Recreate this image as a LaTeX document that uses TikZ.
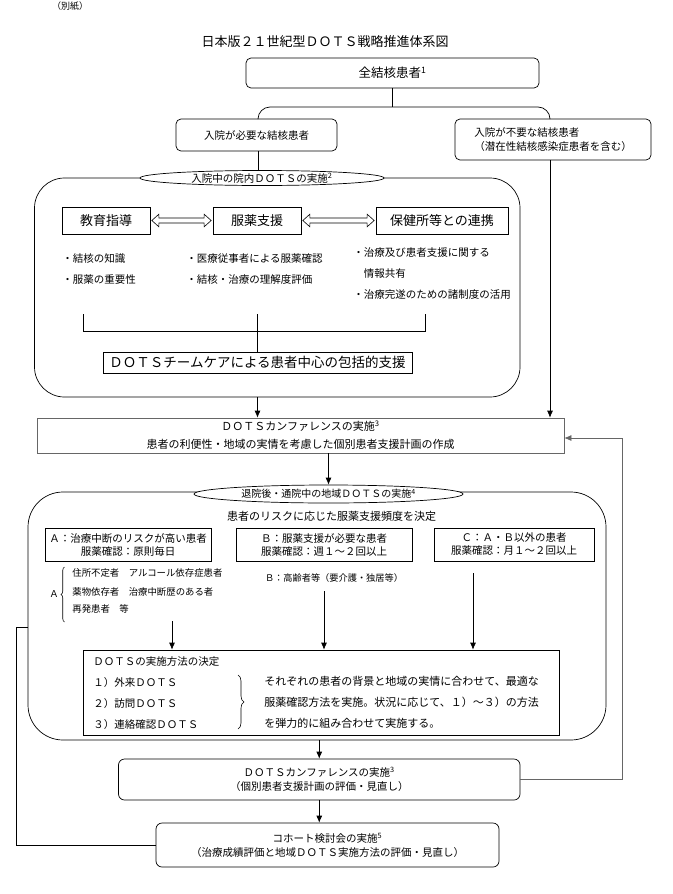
\documentclass[tikz,border=0pt]{standalone}
\usepackage{fontspec}
\setmainfont{Noto Sans CJK JP}
\usetikzlibrary{shapes.geometric,arrows.meta,calc,decorations.pathreplacing}
\newcommand{\fsz}[2]{\fontsize{#1}{#2}\selectfont}
\newcommand{\supn}[1]{\textsuperscript{#1}}
\newcommand{\dblarr}[2]{%
  \draw[line width=0.6pt, line join=miter]
    let \p1=($(#1.east)+(1.5,0)$), \p2=($(#2.west)+(-1.5,0)$) in
    (\x1,\y1) -- (\x1+7pt,\y1+6.3pt) -- (\x1+7pt,\y1+2.5pt) -- (\x2-7pt,\y1+2.5pt)
    -- (\x2-7pt,\y1+6.3pt) -- (\x2,\y1) -- (\x2-7pt,\y1-6.3pt) -- (\x2-7pt,\y1-2.5pt)
    -- (\x1+7pt,\y1-2.5pt) -- (\x1+7pt,\y1-6.3pt) -- cycle;}
\tikzset{
  every node/.style={font=\fsz{10.5}{13}},
  rbox/.style={draw, rounded corners=5pt, inner sep=0pt, align=center},
  sbox/.style={draw, inner sep=0pt, align=center},
  oval/.style={draw, ellipse, fill=white, inner xsep=0pt, inner ysep=-2.5pt},
  bigr/.style={draw, inner sep=0pt},
  lbl/.style={inner sep=0pt, anchor=west},
  plain/.style={inner sep=0pt},
  arr/.style={-{Latex[length=7pt,width=6pt]}},
}
\begin{document}
\begin{tikzpicture}[x=1pt,y=-1pt,line width=0.7pt]
\fill[white] (0,0) rectangle (672,894);
\useasboundingbox (0,0) rectangle (672,894);

% header
\node[plain, font=\fsz{9}{11}] (bessi) at (70,6) {（別紙）};
\node[plain, font=\fsz{13}{15}] (title) at (325,42) {日本版２１世紀型ＤＯＴＳ戦略推進体系図};

% top
\node[rbox, minimum width=293pt, minimum height=30pt, font=\fsz{12.5}{15}] (all) at (392.5,73) {全結核患者\supn{1}};
\node[rbox, minimum width=161pt, minimum height=32pt] (need) at (256.5,135) {入院が必要な結核患者};
\node[rbox, minimum width=196pt, minimum height=41pt, align=left, font=\fsz{10.5}{14}] (noneed) at (553,139.5) {入院が不要な結核患者\\（潜在性結核感染症患者を含む）};

\coordinate (jL) at (258,107);
\coordinate (jR) at (550,107);
\draw (all.south) -- (all.south |- jL);
\draw[rounded corners=12pt] (jL |- need.north) -- (jL) -- (jR) -- (jR |- noneed.north);

% inpatient block
\node[bigr, rounded corners=30pt, minimum width=485.5pt, minimum height=219pt] (inpat) at (277.25,287.5) {};
\node[oval, minimum width=244pt, minimum height=15pt] (ov1) at (262,178) {入院中の院内ＤＯＴＳの実施\supn{2}};
\draw (jL |- need.south) -- (jL |- ov1.north);

\node[sbox, minimum width=88pt, minimum height=27pt, font=\fsz{13}{15}] (kyo) at (106,220.5) {教育指導};
\node[sbox, minimum width=88pt, minimum height=27pt, font=\fsz{13}{15}] (fuku) at (257,220.5) {服薬支援};
\node[sbox, minimum width=132pt, minimum height=27pt, font=\fsz{13}{15}] (hoken) at (442,220.5) {保健所等との連携};
\dblarr{kyo}{fuku}
\dblarr{fuku}{hoken}

\node[lbl] (b1) at (62,259) {・結核の知識};
\node[lbl] (b2) at (62,280) {・服薬の重要性};
\node[lbl] (b3) at (186,259) {・医療従事者による服薬確認};
\node[lbl] (b4) at (186,280) {・結核・治療の理解度評価};
\node[lbl] (b5) at (353,253) {・治療及び患者支援に関する};
\node[lbl] (b6) at (363.5,274) {情報共有};
\node[lbl] (b7) at (353,295) {・治療完遂のための諸制度の活用};

\node[sbox, minimum width=309pt, minimum height=21pt, font=\fsz{13.5}{15}] (team) at (257.5,362.5) {ＤＯＴＳチームケアによる患者中心の包括的支援};
\coordinate (brL) at (83,314);
\coordinate (brM) at (257,314);
\coordinate (brR) at (425,314);
\draw (brL) -- (83,331) -- (425,331) -- (brR);
\draw (brM) -- (brM |- team.north);

% conference 1
\node[sbox, draw=black!60, minimum width=527pt, minimum height=35pt, font=\fsz{11}{18}] (conf1) at (300.5,435.5) {ＤＯＴＳカンファレンスの実施\supn{3}\\患者の利便性・地域の実情を考慮した個別患者支援計画の作成};
\draw[arr] (team.south |- inpat.south) -- (team.south |- conf1.north);
\draw[arr] (jR |- noneed.south) -- (jR |- conf1.north);

% outpatient block
\node[bigr, rounded corners=35pt, minimum width=578pt, minimum height=248pt] (outpat) at (317,616) {};
\node[oval, minimum width=269pt, minimum height=18pt, font=\fsz{10}{12}] (ov2) at (328.5,494) {退院後・通院中の地域ＤＯＴＳの実施\supn{4}};
\draw[arr] (ov2.north |- conf1.south) -- (ov2.north);

\node[plain, font=\fsz{11}{13}] (risk) at (331.5,516) {患者のリスクに応じた服薬支援頻度を決定};
\node[sbox, minimum width=166pt, minimum height=33pt] (ba) at (128,544.5) {Ａ：治療中断のリスクが高い患者\\服薬確認：原則毎日};
\node[sbox, minimum width=176pt, minimum height=33pt] (bb) at (324,544.5) {Ｂ：服薬支援が必要な患者\\服薬確認：週１～２回以上};
\node[sbox, minimum width=160pt, minimum height=33pt] (bc) at (514,544.5) {Ｃ：Ａ・Ｂ以外の患者\\服薬確認：月１～２回以上};

\node[plain, font=\fsz{9.2}{11}] (bnote) at (334,578) {Ｂ：高齢者等（要介護・独居等）};
\node[plain, font=\fsz{9.4}{11}] (aA) at (54,594) {Ａ};
\node[lbl, font=\fsz{9.4}{11}] (a1) at (72,573) {住所不定者　アルコール依存症患者};
\node[lbl, font=\fsz{9.4}{11}] (a2) at (72,592) {薬物依存者　治療中断歴のある者};
\node[lbl, font=\fsz{9.4}{11}] (a3) at (72,609) {再発患者　等};
\draw[line width=0.6pt, decorate, decoration={brace, amplitude=3.5pt}] (64.5,622) -- (64.5,567);

\node[sbox, minimum width=476pt, minimum height=85pt] (meth) at (321,692.5) {};
\coordinate (aS) at (172,621);
\coordinate (bS) at (324,591);
\coordinate (cS) at (473,573);
\draw[arr] (aS) -- (aS |- meth.north);
\draw[arr] (bS) -- (bS |- meth.north);
\draw[arr] (cS) -- (cS |- meth.north);

\node[lbl] (m0) at (93,662) {ＤＯＴＳの実施方法の決定};
\node[lbl] (m1) at (93,683) {１）外来ＤＯＴＳ};
\node[lbl] (m2) at (93,704) {２）訪問ＤＯＴＳ};
\node[lbl] (m3) at (93,725) {３）連絡確認ＤＯＴＳ};
\draw[line width=0.6pt, decorate, decoration={brace, amplitude=6pt}] (238,675) -- (238,729);
\node[lbl, align=left, font=\fsz{11}{21}] (mr) at (264,702) {それぞれの患者の背景と地域の実情に合わせて、最適な\\服薬確認方法を実施。状況に応じて、１）～３）の方法\\を弾力的に組み合わせて実施する。};

% conference 2 and cohort
\node[rbox, rounded corners=6pt, minimum width=401.5pt, minimum height=41pt, font=\fsz{10.5}{14}] (conf2) at (319.25,779.5) {ＤＯＴＳカンファレンスの実施\supn{3}\\（個別患者支援計画の評価・見直し）};
\draw[arr] (conf2.north |- outpat.south) -- (conf2.north);
\node[rbox, rounded corners=6pt, minimum width=343pt, minimum height=44pt, font=\fsz{10.5}{14}] (cohort) at (327.5,845) {コホート検討会の実施\supn{5}\\（治療成績評価と地域ＤＯＴＳ実施方法の評価・見直し）};
\draw[arr] (conf2.south) -- (conf2.south |- cohort.north);

% feedback loops
\coordinate (fbR) at (622,438);
\draw[arr, draw=black!60] (conf2.east) -| (fbR) -- (fbR -| conf1.east);
\coordinate (fbL) at (16,627);
\draw (fbL -| outpat.west) -- (fbL) |- (cohort.west);
\end{tikzpicture}
\end{document}
